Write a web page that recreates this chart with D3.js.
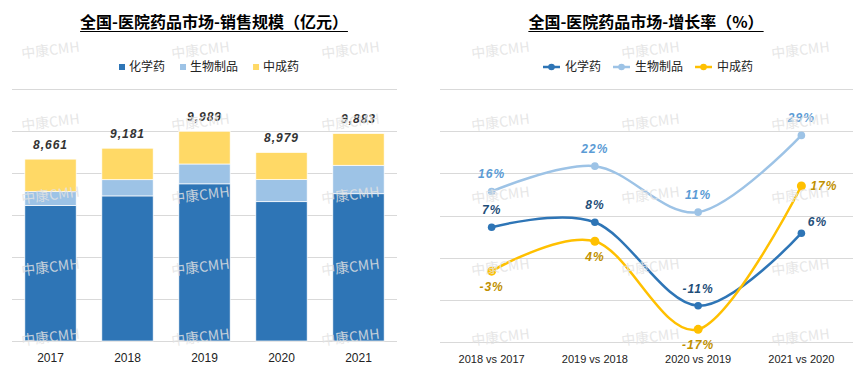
<!doctype html>
<html>
<head>
<meta charset="utf-8"/>
<title>全国-医院药品市场</title>
<script src="https://d3js.org/d3.v7.min.js"></script>
<style>
  body { margin:0; background:#fff; }
  svg text { font-family: "Noto Sans CJK SC", "Microsoft YaHei", sans-serif; }
  .num { font-family: "Liberation Sans", Arial, sans-serif !important; }
</style>
</head>
<body>
<script>
// ---- data ----
const years      = ["2017", "2018", "2019", "2020", "2021"];
const chemSales  = [6446, 6909, 7484, 6634, 7013];   // 化学药, 亿元
const bioSales   = [665, 772, 945, 1050, 1355];      // 生物制品
const tcmSales   = [1550, 1500, 1560, 1295, 1515];   // 中成药
const salesTicks = [0, 2000, 4000, 6000, 8000, 10000, 12000];

const periods     = ["2018 vs 2017", "2019 vs 2018", "2020 vs 2019", "2021 vs 2020"];
const chemGrowth  = [7.2, 8.4, -11.4, 5.8];   // %
const bioGrowth   = [15.7, 21.7, 10.8, 29.0];
const tcmGrowth   = [-3.2, 3.9, -17.0, 17.0];
const growthTicks = [-20, -10, 0, 10, 20, 30, 40];

const seriesNames = ["化学药", "生物制品", "中成药"];
const colors      = ["#2E75B6", "#9DC3E6", "#FFD966"];
const lineColors  = ["#2E75B6", "#9DC3E6", "#FFC000"];
const labelColors = ["#1F4E79", "#5B9BD5", "#BF9000"];

const svg = d3.select("body").append("svg").attr("width", 865).attr("height", 381);

function title(txt, cx) {
  let t = svg.append("text").attr("x", cx).attr("y", 28)
    .attr("text-anchor", "middle").style("font-size", "16px").style("font-weight", "bold")
    .attr("fill", "#000").text(txt);
  let w = t.node().getComputedTextLength();
  svg.append("line").attr("x1", cx - w/2).attr("x2", cx + w/2)
    .attr("y1", 31.5).attr("y2", 31.5).attr("stroke", "#000").attr("stroke-width", 1.2);
}

// ================= left: stacked bars =================
title("全国-医院药品市场-销售规模（亿元）", 214);

const x0 = d3.scaleBand().domain(years).range([12, 397]).paddingInner(0.333).paddingOuter(0.1667);
const y0 = d3.scaleLinear().domain([0, 12000]).range([341, 89]);

svg.append("g").selectAll("line").data(salesTicks).enter().append("line")
  .attr("x1", 12).attr("x2", 397)
  .attr("y1", d => Math.round(y0(d)) + 0.5).attr("y2", d => Math.round(y0(d)) + 0.5)
  .attr("stroke", "#d9d9d9");

const table = years.map((yr, i) => ({ year: yr, chem: chemSales[i], bio: bioSales[i], tcm: tcmSales[i] }));
const stack = d3.stack().keys(["chem", "bio", "tcm"])(table);

svg.append("g").selectAll("g").data(stack).enter().append("g")
  .attr("fill", (d, i) => colors[i])
  .selectAll("rect").data(d => d).enter().append("rect")
  .attr("x", d => x0(d.data.year))
  .attr("width", x0.bandwidth())
  .attr("y", d => y0(d[1]))
  .attr("height", d => y0(d[0]) - y0(d[1]))
  .attr("stroke", "#fff").attr("stroke-width", 0.7);

svg.append("g").selectAll("text").data(table).enter().append("text")
  .attr("class", "num")
  .attr("x", d => x0(d.year) + x0.bandwidth()/2)
  .attr("y", d => y0(d.chem + d.bio + d.tcm) - 10)
  .attr("text-anchor", "middle").style("font-size", "12px").style("font-style", "italic")
  .style("font-weight", "bold").style("letter-spacing", "1px")
  .attr("fill", "#333")
  .text(d => d3.format(",")(d.chem + d.bio + d.tcm));

svg.append("g").selectAll("text").data(years).enter().append("text")
  .attr("class", "num")
  .attr("x", d => x0(d) + x0.bandwidth()/2).attr("y", 362)
  .attr("text-anchor", "middle").style("font-size", "12px").attr("fill", "#222")
  .text(d => d);

// legend (squares)
let lx = 119;
seriesNames.forEach((s, i) => {
  svg.append("rect").attr("x", lx).attr("y", 64).attr("width", 6).attr("height", 6).attr("fill", colors[i]);
  let t = svg.append("text").attr("x", lx + 10).attr("y", 71).style("font-size", "12px").attr("fill", "#222").text(s);
  lx += 10 + t.node().getComputedTextLength() + 15;
});

// ================= right: growth lines =================
title("全国-医院药品市场-增长率（%）", 646);

const x1 = d3.scalePoint().domain(periods).range([440, 853]).padding(0.5);
const y1 = d3.scaleLinear().domain([-20, 40]).range([342, 89]);

svg.append("g").selectAll("line").data(growthTicks).enter().append("line")
  .attr("x1", 440).attr("x2", 853)
  .attr("y1", d => Math.round(y1(d)) + 0.5).attr("y2", d => Math.round(y1(d)) + 0.5)
  .attr("stroke", "#d9d9d9");

svg.append("g").selectAll("text").data(periods).enter().append("text")
  .attr("class", "num")
  .attr("x", d => x1(d)).attr("y", 363)
  .attr("text-anchor", "middle").style("font-size", "11px").attr("fill", "#222")
  .text(d => d);

const growth = [chemGrowth, bioGrowth, tcmGrowth];
const radius = [3.8, 3.8, 4.5];
// where each label sits relative to its point
const place = [
  ["above", "above", "above", "upright"],
  ["above", "above", "above", "above"],
  ["below", "below", "below", "right"]
];

const line = d3.line().x((d, i) => x1(periods[i])).y(d => y1(d)).curve(d3.curveCardinal);

// draw bio first, then chem, then tcm on top
[1, 0, 2].forEach(k => {
  svg.append("path").datum(growth[k]).attr("d", line)
    .attr("fill", "none").attr("stroke", lineColors[k]).attr("stroke-width", 2.5);
  svg.append("g").selectAll("circle").data(growth[k]).enter().append("circle")
    .attr("cx", (d, i) => x1(periods[i])).attr("cy", d => y1(d))
    .attr("r", radius[k]).attr("fill", lineColors[k]);
});

[0, 1, 2].forEach(k => {
  svg.append("g").selectAll("text").data(growth[k]).enter().append("text")
    .attr("class", "num")
    .attr("x", (d, i) => {
      let p = place[k][i], x = x1(periods[i]);
      return p === "upright" ? x + 16 : p === "right" ? x + 9 : x;
    })
    .attr("y", (d, i) => {
      let p = place[k][i], y = y1(d);
      return p === "above" ? y - 13 : p === "below" ? y + 19.5 : p === "upright" ? y - 7 : y + 4.5;
    })
    .attr("text-anchor", (d, i) => place[k][i] === "right" ? "start" : "middle")
    .style("font-size", "12px").style("font-style", "italic").style("font-weight", "bold")
    .style("letter-spacing", "1px")
    .attr("fill", labelColors[k])
    .text(d => Math.round(d) + "%");
});

// legend (line + marker)
let rx = 543;
seriesNames.forEach((s, i) => {
  svg.append("line").attr("x1", rx).attr("x2", rx + 17).attr("y1", 67).attr("y2", 67)
    .attr("stroke", lineColors[i]).attr("stroke-width", 2.5);
  svg.append("circle").attr("cx", rx + 8.5).attr("cy", 67).attr("r", 3.3).attr("fill", lineColors[i]);
  let t = svg.append("text").attr("x", rx + 22).attr("y", 71).style("font-size", "12px").attr("fill", "#222").text(s);
  rx += 22 + t.node().getComputedTextLength() + 12;
});

// ================= watermark =================
const wmCols = [51, 201, 351, 501, 651, 801];
const wmRows = [55, 127, 200, 272, 342];
wmRows.forEach(ry => wmCols.forEach(cx => {
  svg.append("text").attr("transform", `translate(${cx},${ry}) rotate(-7)`)
    .attr("text-anchor", "middle").style("font-size", "14px")
    .attr("fill", "#e2e2e2").attr("fill-opacity", 0.85)
    .text("中康CMH");
}));
</script>
</body>
</html>
